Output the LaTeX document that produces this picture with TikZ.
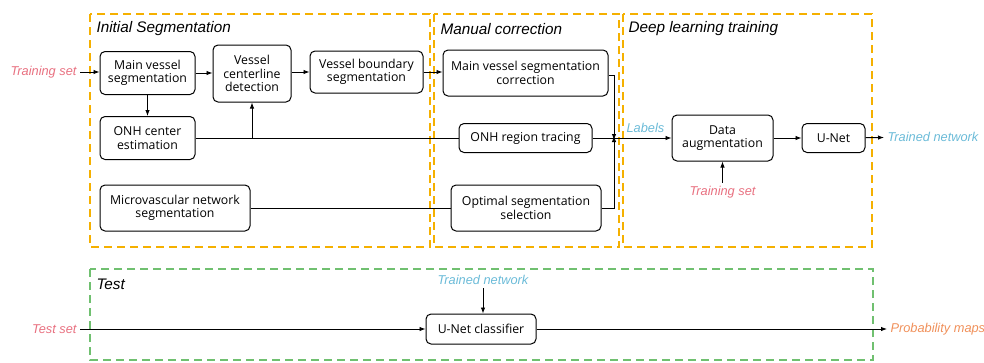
\documentclass[tikz,border=0pt]{standalone}
\usepackage{fontspec}
\setmainfont{Open Sans}
\newfontfamily\labelfont{Liberation Sans}
\usepackage{xcolor}
\usetikzlibrary{positioning,arrows.meta}

\definecolor{stageorange}{RGB}{245,176,0}
\definecolor{testgreen}{RGB}{112,192,112}
\definecolor{trainpink}{RGB}{232,112,128}
\definecolor{netblue}{RGB}{107,187,216}
\definecolor{proborange}{RGB}{240,144,90}

\begin{document}
\begin{tikzpicture}[
    x=1pt, y=-1pt,
    box/.style={rectangle, draw, rounded corners=5pt, line width=1pt, inner sep=2pt,
                font=\fontsize{12.3}{13.5}\selectfont, align=center},
    arrow/.style={-{Latex[length=6pt,width=4.5pt]}, line width=0.9pt},
    wire/.style={line width=0.9pt},
    stage/.style={dash pattern=on 8pt off 5pt, line width=1.8pt},
    title/.style={anchor=west, font=\labelfont\itshape\fontsize{15.3}{17}\selectfont},
    tag/.style={font=\labelfont\itshape\fontsize{12.8}{14}\selectfont}
]
  \useasboundingbox (0,0) rectangle (984,362);

  % Stages
  \draw[stage, draw=stageorange] (90,14) rectangle (430,247);
  \draw[stage, draw=stageorange] (434,14) rectangle (619,247);
  \draw[stage, draw=stageorange] (623,14) rectangle (872,247);
  \draw[stage, draw=testgreen] (90,269) rectangle (873,360);
  \node[title] (initial) at (93,29) {Initial Segmentation};
  \node[title] (manual) at (437,29) {Manual correction};
  \node[title] (deep) at (625,29) {Deep learning training};
  \node[title] (test) at (93,284) {Test};

  % Initial segmentation
  \node[box, minimum width=95pt, minimum height=43pt] (mainseg) at (147.5,73) {Main vessel\\segmentation};
  \node[box, minimum width=78pt, minimum height=57pt] (centerline) at (252,73.5) {Vessel\\centerline\\detection};
  \node[box, minimum width=113pt, minimum height=42pt] (boundary) at (366.5,72) {Vessel boundary\\segmentation};
  \node[box, minimum width=95pt, minimum height=43pt] (onhcenter) at (147.5,138) {ONH center\\estimation};
  \node[box, minimum width=150pt, minimum height=46pt] (micro) at (175,208) {Microvascular network\\segmentation};

  % Manual correction
  \node[box, minimum width=165pt, minimum height=46pt] (correction) at (525.5,73) {Main vessel segmentation\\correction};
  \node[box, minimum width=133pt, minimum height=29pt] (tracing) at (525.5,138) {ONH region tracing};
  \node[box, minimum width=150pt, minimum height=46pt] (optimal) at (526,208) {Optimal segmentation\\selection};
  \coordinate (merge) at (614,138);

  % Deep learning training
  \node[box, minimum width=101pt, minimum height=46pt] (augment) at (722.5,138) {Data\\augmentation};
  \node[box, minimum width=63pt, minimum height=29pt] (unet) at (833.5,138) {U-Net};

  % Test
  \node[box, minimum width=110pt, minimum height=30pt] (classifier) at (481,329) {U-Net classifier};

  % Inputs and outputs
  \node[tag, text=trainpink, anchor=east] (trainin) at (80,72) {Training set};
  \node[tag, text=netblue, anchor=south west] (labels) at (623,136) {Labels};
  \node[tag, text=trainpink] (trainaug) at (722.5,192) {Training set};
  \node[tag, text=netblue, anchor=west] (trainedout) at (884,137) {Trained network};
  \node[tag, text=trainpink, anchor=east] (testset) at (80,329) {Test set};
  \node[tag, text=netblue] (trainedin) at (483,280) {Trained network};
  \node[tag, text=proborange, anchor=west] (probmaps) at (887,329) {Probability maps};

  % Arrows
  \draw[arrow] (trainin) -- (trainin -| mainseg.west);
  \draw[arrow] (mainseg.east) -- (mainseg.east -| centerline.west);
  \draw[arrow] (centerline.east |- boundary.west) -- (boundary.west);
  \draw[arrow] (boundary.east) -- (boundary.east -| correction.west);
  \draw[arrow] (mainseg) -- (onhcenter);
  \draw[wire] (onhcenter) -- (tracing);
  \draw[arrow] (centerline.south |- onhcenter.east) -- (centerline.south);
  \draw[wire] (micro) -- (optimal);
  \draw[arrow] ([yshift=-2pt]correction.east) -| ([yshift=-2pt]merge);
  \draw[arrow] (optimal.east) -| ([yshift=2pt]merge);
  \draw[arrow] (tracing) -- (augment);
  \draw[arrow] (augment) -- (unet);
  \draw[arrow] (trainaug) -- (augment);
  \draw[arrow] (unet) -- (trainedout);
  \draw[arrow] (testset) -- (classifier);
  \draw[arrow] (trainedin.south) -- (trainedin.south |- classifier.north);
  \draw[arrow] (classifier) -- (probmaps);
\end{tikzpicture}
\end{document}
